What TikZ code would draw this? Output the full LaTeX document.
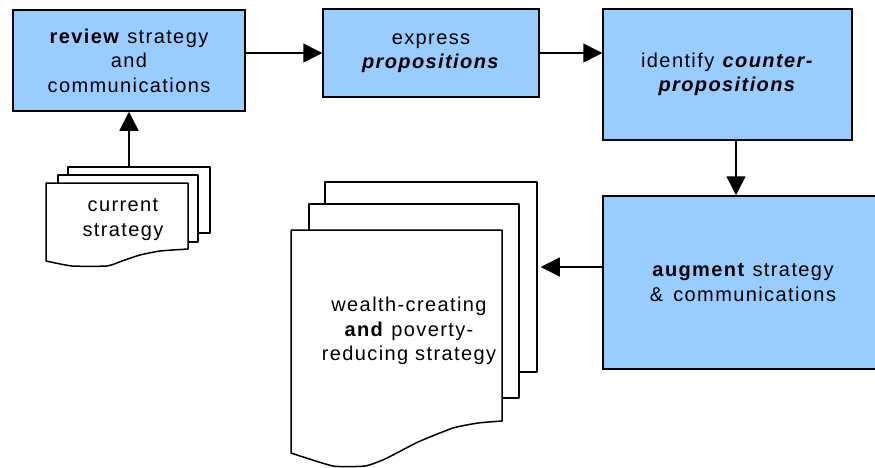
\documentclass[tikz,border=0pt]{standalone}
\usepackage{fontspec}
\setmainfont[LetterSpace=7]{Liberation Sans}
\usetikzlibrary{arrows.meta}
\definecolor{boxblue}{HTML}{99CCFF}
\begin{document}
\begin{tikzpicture}[x=1pt,y=-1pt,
  every node/.style={font=\fontsize{20}{24.5}\selectfont, align=center, inner sep=0pt},
  procbox/.style={draw, line width=1.5pt, fill=boxblue},
  page/.style={draw, line width=1.5pt, fill=white, line join=round},
  arr/.style={line width=1.5pt, -{Triangle[length=19pt,width=19pt]}}]
\useasboundingbox (0,0) rectangle (875,467);

% process boxes
\node[procbox, minimum width=232pt, minimum height=101pt] (review) at (129,60.5)
  {\textbf{review} strategy\\and\\communications};
\node[procbox, minimum width=216pt, minimum height=88pt] (express) at (431,53)
  {express\\\textbf{\textit{propositions}}};
\node[procbox, minimum width=249pt, minimum height=131pt] (identify) at (727.5,74.5)
  {identify \textbf{\textit{counter-}}\\\textbf{\textit{propositions}}};
\node[procbox, minimum width=280pt, minimum height=173pt] (augment) at (743,282.5)
  {\textbf{augment} strategy\\\&\enspace communications};

% current strategy (multi-document)
\node[page, minimum width=142pt, minimum height=66pt] (cs3) at (139,200) {};
\node[page, minimum width=140pt, minimum height=67pt] (cs2) at (128,208.5) {};
\draw[page] plot[smooth, tension=0.3] coordinates {(188,249) (160,251) (140,255) (122,261) (107,266) (72,266) (46,261)}
  -- (46,183) -- (188,183) -- cycle;
\node (cstext) at (123,219.5) {current\\strategy};

% resulting strategy (multi-document)
\node[page, minimum width=212pt, minimum height=190pt] (bd3) at (431,277) {};
\node[page, minimum width=210pt, minimum height=194pt] (bd2) at (414,301) {};
\draw[page] plot[smooth, tension=0.3] coordinates {(502,421) (478,423) (453,428) (418,442) (385,459) (365,466) (333,466) (291,453)}
  -- (291,230) -- (502,230) -- cycle;
\node (bdtext) at (409,331) {wealth-creating\\\textbf{and} poverty-\\reducing strategy};

% connectors
\coordinate (ia) at (736,0);
\coordinate (ab) at (0,267);
\draw[arr] (review.east |- express.west) -- (express.west);
\draw[arr] (express.east) -- (identify.west |- express.east);
\draw[arr] (identify.south -| ia) -- (augment.north -| ia);
\draw[arr, shorten >=3pt] (augment.west |- ab) -- (bd3.east |- ab);
\draw[arr] (cs3.north -| review.south) -- (review.south);
\end{tikzpicture}
\end{document}
